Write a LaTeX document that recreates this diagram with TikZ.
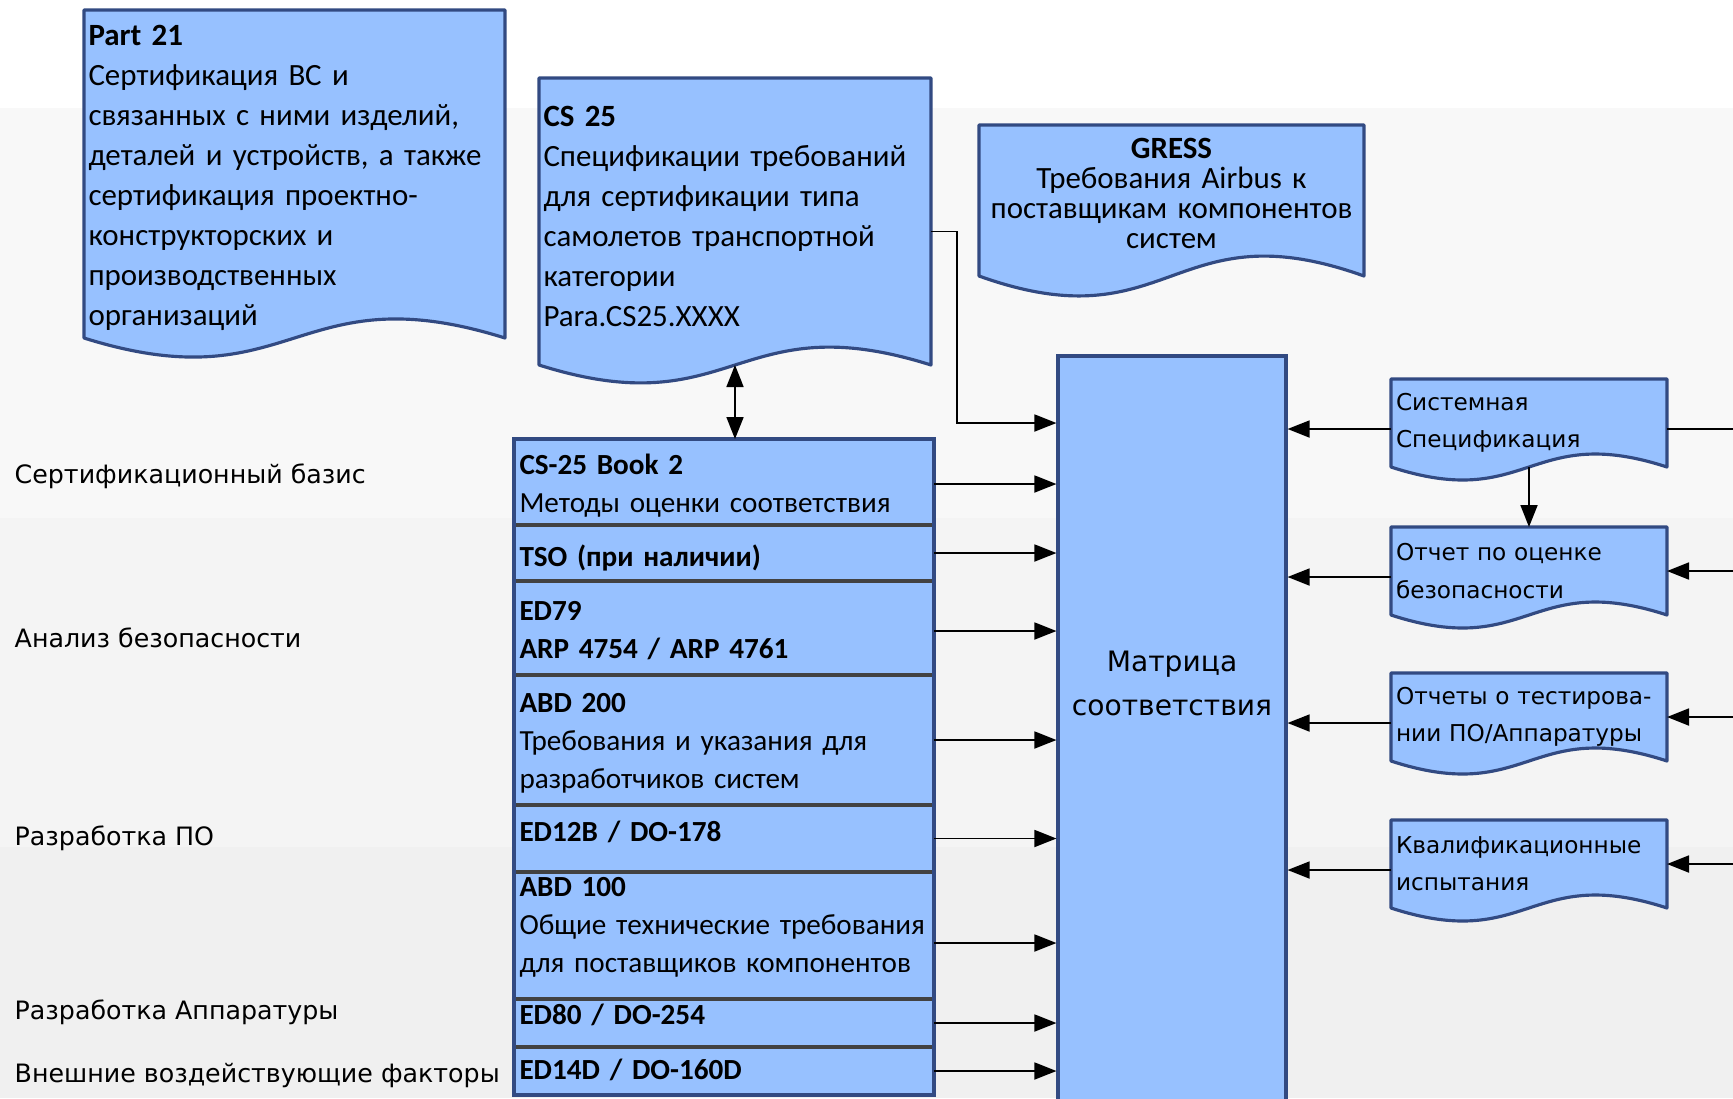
\documentclass[tikz,border=0pt]{standalone}
\usepackage{fontspec}
\setmainfont{Carlito}
\newfontfamily\sidefont{DejaVu Sans}
\usetikzlibrary{positioning,arrows.meta,backgrounds}
\definecolor{boxblue}{RGB}{151,193,255}
\definecolor{boxline}{RGB}{50,74,130}
\definecolor{sepgray}{RGB}{66,66,66}
\definecolor{bandA}{RGB}{248,248,248}
\definecolor{bandB}{RGB}{244,244,244}
\definecolor{bandC}{RGB}{240,240,240}

\begin{document}
\begin{tikzpicture}[x=0.1mm, y=-0.1mm, node distance=0pt,
DocStyle/.style={inner xsep=0.45mm, inner ysep=0pt, outer sep=0pt, align=left,
                font=\fontsize{8.8}{11.4}\selectfont},
DocLine/.style={draw=boxline, fill=boxblue, line width=0.9pt, line join=round},
RowStyle/.style n args={3}{fill=boxblue, minimum width=42mm, text width=40.9mm,
                minimum height=#1, text height=#2, text depth=#3,
                inner xsep=0.55mm, inner ysep=0pt, outer sep=0pt, align=left,
                font=\fontsize{8.3}{10.8}\selectfont},
RepStyle/.style={DocStyle, minimum width=27.6mm, minimum height=8.8mm,
                text width=26.6mm, font=\sidefont\fontsize{6.6}{10.6}\selectfont},
SideLabel/.style={anchor=west, inner sep=0pt, font=\sidefont\fontsize{7.2}{9}\selectfont},
Arrow/.style={-{Triangle[length=2.2mm,width=1.7mm]}, line width=0.5pt},
]
\useasboundingbox (0,0) rectangle (1733,1098);
\begin{scope}[on background layer]
\fill[white] (0,0) rectangle (1733,108);
\fill[bandA] (0,108) rectangle (1733,518);
\fill[bandB] (0,518) rectangle (1733,847);
\fill[bandC] (0,847) rectangle (1733,1098);
\end{scope}

\node [DocStyle, minimum width=42.1mm, minimum height=32.8mm, text width=41.2mm,
  text height=3.55mm, text depth=29.25mm]
  (p21) at (294.5,174) {\textbf{Part 21}\\Сертификация ВС и\\связанных с ними изделий,\\деталей и устройств, а также\\сертификация проектно-\\конструкторских и\\производственных\\организаций};
\node [DocStyle, minimum width=39.2mm, minimum height=28.7mm, text width=38.3mm,
  text height=4.83mm, text depth=23.87mm]
  (cs25) at (735,221.5) {\textbf{CS 25}\\Спецификации требований\\для сертификации типа\\самолетов транспортной\\категории\\Para.CS25.XXXX};
\node [DocStyle, minimum width=38.5mm, minimum height=15.1mm, text width=37.6mm,
  text height=3.31mm, text depth=11.79mm, align=center, font=\fontsize{8.8}{8.6}\selectfont]
  (gress) at (1171.5,200.5) {\textbf{GRESS}\\Требования Airbus к\\поставщикам компонентов\\систем};

\node [RowStyle={8.6mm}{3.52mm}{5.08mm}, anchor=north west] (row1) at (514,439)
  {\textbf{CS-25 Book 2}\\Методы оценки соответствия};
\node [RowStyle={5.6mm}{4.1mm}{1.5mm}, below=of row1] (row2) {\textbf{TSO (при наличии)}};
\node [RowStyle={9.4mm}{3.92mm}{5.48mm}, below=of row2] (row3) {\textbf{ED79}\\\textbf{ARP 4754 / ARP 4761}};
\node [RowStyle={13mm}{3.71mm}{9.29mm}, below=of row3] (row4)
  {\textbf{ABD 200}\\Требования и указания для\\разработчиков систем};
\node [RowStyle={6.7mm}{3.64mm}{3.06mm}, below=of row4] (row5) {\textbf{ED12B / DO-178}};
\node [RowStyle={12.7mm}{2.45mm}{10.25mm}, below=of row5] (row6)
  {\textbf{ABD 100}\\Общие технические требования\\для поставщиков компонентов};
\node [RowStyle={4.8mm}{2.58mm}{2.22mm}, below=of row6] (row7) {\textbf{ED80 / DO-254}};
\node [RowStyle={4.8mm}{3.24mm}{1.56mm}, below=of row7] (row8) {\textbf{ED14D / DO-160D}};
\foreach \i in {1,...,7}
  \draw[sepgray, line width=1.1pt] (row\i.south west) -- (row\i.south east);
\draw[boxline, line width=0.9pt] (row1.north west) rectangle (row8.south east);

\node [draw=boxline, fill=boxblue, line width=0.9pt, minimum width=22.8mm, minimum height=75.4mm,
  label={[align=center, yshift=5mm, font=\sidefont\fontsize{8}{12.5}\selectfont]center:Матрица\\соответствия}]
  (mtx) at (1172,733) {};

\node [RepStyle] (rep1) at (1529,423) {Системная\\Спецификация};
\node [RepStyle] (rep2) at (1529,571) {Отчет по оценке\\безопасности};
\node [RepStyle] (rep3) at (1529,717) {Отчеты о тестирова-\\нии ПО/Аппаратуры};
\node [RepStyle] (rep4) at (1529,864) {Квалификационные\\испытания};

\begin{scope}[on background layer]
\foreach \n/\k in {p21/6.6mm, cs25/6.2mm, gress/6.9mm, rep1/4.5mm, rep2/4.5mm, rep3/4.5mm, rep4/4.5mm}
  \draw[DocLine] (\n.south west) -- (\n.north west) -- (\n.north east) -- (\n.south east)
    .. controls ([yshift=\k]\n.south) and ([yshift=-\k]\n.south) .. (\n.south west) -- cycle;
\end{scope}

\node [SideLabel] (lab1) at (14,476) {Сертификационный базис};
\node [SideLabel] (lab2) at (14,638) {Анализ безопасности};
\node [SideLabel] (lab3) at (14,838) {Разработка ПО};
\node [SideLabel] (lab4) at (14,1012) {Разработка Аппаратуры};
\node [SideLabel] (lab5) at (14,1075) {Внешние воздействующие факторы};

\coordinate (kink) at (957,423);
\coordinate (edge) at (1733,0);
\draw[{Triangle[length=2.2mm,width=1.7mm]}-{Triangle[length=2.2mm,width=1.7mm]}, line width=0.5pt]
  (cs25.south) -- (cs25.south |- row1.north);
\draw[Arrow] ([yshift=-1mm]cs25.east) -| (kink) -- (kink -| mtx.west);
\foreach \i/\s in {1/-0.2mm, 2/0mm, 3/-0.3mm, 4/0mm, 5/0mm, 6/-0.75mm, 7/0mm, 8/0mm}
  \draw[Arrow] ([yshift=\s]row\i.east) -- ([yshift=\s]row\i.east -| mtx.west);
\foreach \i in {1,...,4}
  \draw[Arrow] ([yshift=-0.6mm]rep\i.west) -- ([yshift=-0.6mm]rep\i.west -| mtx.east);
\draw[line width=0.5pt] ([yshift=-0.6mm]rep1.east) -- ([yshift=-0.6mm]rep1.east -| edge);
\foreach \i in {2,3,4}
  \draw[Arrow] (edge |- rep\i.east) -- (rep\i.east);
\draw[Arrow] (rep1.south) -- (rep2.north);
\end{tikzpicture}
\end{document}
